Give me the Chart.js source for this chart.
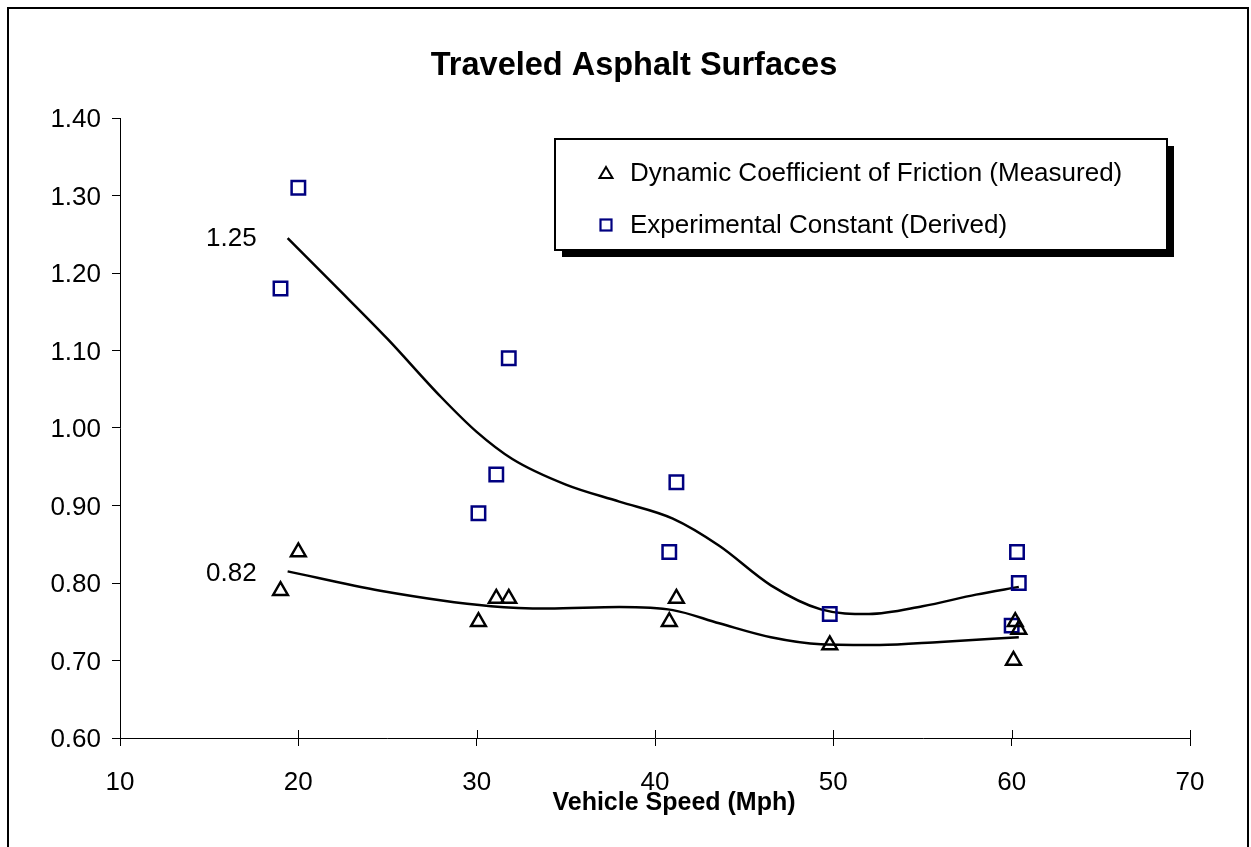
<!DOCTYPE html>
<html><head><meta charset="utf-8">
<script src="https://cdn.jsdelivr.net/npm/chart.js@4/dist/chart.umd.min.js"></script>
<style>html,body{margin:0;padding:0;background:#fff;overflow:hidden}canvas{display:block}</style>
</head><body>
<canvas id="c" width="1251" height="847"></canvas>
<script>
const chartTitle = "Traveled Asphalt Surfaces";
const xAxisTitle = "Vehicle Speed (Mph)";
const xTicks = [10, 20, 30, 40, 50, 60, 70];
const yTicks = [0.6, 0.7, 0.8, 0.9, 1.0, 1.1, 1.2, 1.3, 1.4];
const seriesNames = ["Dynamic Coefficient of Friction (Measured)", "Experimental Constant (Derived)"];

const frictionSpeed = [19.0, 20.0, 30.1, 31.1, 31.8, 40.8, 41.2, 49.8, 60.1, 60.2, 60.4];
const frictionValue = [0.79, 0.84, 0.75, 0.78, 0.78, 0.75, 0.78, 0.72, 0.70, 0.75, 0.74];
const constantSpeed = [19.0, 20.0, 30.1, 31.1, 31.8, 40.8, 41.2, 49.8, 60.0, 60.3, 60.4];
const constantValue = [1.18, 1.31, 0.89, 0.94, 1.09, 0.84, 0.93, 0.76, 0.745, 0.84, 0.80];

const frictionTrendSpeed = [19.4, 24.6, 30.8, 34.0, 38.0, 41.0, 43.6, 46.5, 49.3, 52.6, 56.0, 60.4];
const frictionTrendValue = [0.815, 0.79, 0.77, 0.767, 0.769, 0.765, 0.748, 0.73, 0.721, 0.72, 0.724, 0.73];
const constantTrendSpeed = [19.4, 22.0, 25.0, 28.0, 30.0, 32.0, 35.0, 38.0, 41.0, 43.6, 46.5, 49.3, 52.0, 55.0, 58.0, 60.4];
const constantTrendValue = [1.245, 1.185, 1.115, 1.04, 0.995, 0.96, 0.927, 0.905, 0.883, 0.848, 0.797, 0.766, 0.76, 0.77, 0.785, 0.795];
const trendLabels = ["0.82", "1.25"];

const FONT = '"Liberation Sans", Arial, sans-serif';
const NAVY = '#000080';
const pts = (xs, ys) => xs.map((x, i) => ({x: x, y: ys[i]}));

const deco = {
  id: 'deco',
  beforeDraw(chart) {
    const c = chart.ctx; c.save(); c.fillStyle = '#fff'; c.fillRect(0, 0, chart.width, chart.height); c.restore();
  },
  afterDraw(chart) {
    const c = chart.ctx, xs = chart.scales.x, ys = chart.scales.y, a = chart.chartArea;
    c.save();
    c.strokeStyle = '#000'; c.lineWidth = 2;
    c.strokeRect(8, 8, 1240, 900);
    c.fillStyle = '#000'; c.textAlign = 'center'; c.textBaseline = 'middle';
    c.font = 'bold 32.5px ' + FONT; c.fillText(chartTitle, 634, 66);
    c.font = 'bold 25px ' + FONT; c.fillText(xAxisTitle, 674, 803);
    // inner part of x ticks
    c.lineWidth = 1;
    xTicks.forEach(v => { const px = Math.round(xs.getPixelForValue(v)) + 0.5; c.beginPath(); c.moveTo(px, a.bottom); c.lineTo(px, a.bottom - 8); c.stroke(); });
    // trend labels
    c.font = '26px ' + FONT; c.textAlign = 'right';
    c.fillText(trendLabels[0], xs.getPixelForValue(frictionTrendSpeed[0]) - 31, ys.getPixelForValue(frictionTrendValue[0]) + 2);
    c.fillText(trendLabels[1], xs.getPixelForValue(constantTrendSpeed[0]) - 31, ys.getPixelForValue(constantTrendValue[0]) + 1);
    // legend
    const L = 555, T = 139, W = 612, H = 111;
    c.fillStyle = '#000'; c.fillRect(L + 7, T + 7, W, H);
    c.fillStyle = '#fff'; c.fillRect(L, T, W, H);
    c.lineWidth = 2; c.strokeStyle = '#000'; c.strokeRect(L, T, W, H);
    // legend markers
    c.beginPath(); c.moveTo(606, 167); c.lineTo(612.5, 178); c.lineTo(599.5, 178); c.closePath(); c.stroke();
    c.strokeStyle = NAVY; c.lineWidth = 2.2; c.strokeRect(600.5, 219.5, 11, 11);
    c.fillStyle = '#000'; c.textAlign = 'left'; c.font = '26px ' + FONT;
    c.fillText(seriesNames[0], 630, 174);
    c.fillText(seriesNames[1], 630, 226);
    c.restore();
  }
};

new Chart(document.getElementById('c'), {
  type: 'scatter',
  data: {
    datasets: [
      {label: seriesNames[0], data: pts(frictionSpeed, frictionValue), pointStyle: 'triangle', pointRadius: 8.6, pointBorderWidth: 2.4, pointBorderColor: '#000', pointBackgroundColor: 'rgba(255,255,255,0)', showLine: false},
      {label: seriesNames[1], data: pts(constantSpeed, constantValue), pointStyle: 'rect', pointRadius: 9.5, pointBorderWidth: 2.5, pointBorderColor: NAVY, pointBackgroundColor: 'rgba(255,255,255,0)', showLine: false},
      {type: 'line', label: 'friction trend', data: pts(frictionTrendSpeed, frictionTrendValue), borderColor: '#000', borderWidth: 2.5, pointRadius: 0, cubicInterpolationMode: 'monotone', fill: false},
      {type: 'line', label: 'constant trend', data: pts(constantTrendSpeed, constantTrendValue), borderColor: '#000', borderWidth: 2.5, pointRadius: 0, cubicInterpolationMode: 'monotone', fill: false}
    ]
  },
  options: {
    responsive: false, animation: false, devicePixelRatio: 1,
    layout: {padding: {top: 118, right: 61, left: 0, bottom: 0}},
    plugins: {legend: {display: false}, title: {display: false}, tooltip: {enabled: false}},
    scales: {
      x: {type: 'linear', min: 10, max: 70,
        afterFit: s => { s.height = 109; },
        afterBuildTicks: s => { s.ticks = xTicks.map(v => ({value: v})); },
        border: {color: '#000', width: 1},
        grid: {drawOnChartArea: false, drawTicks: true, tickLength: 8, color: '#000'},
        ticks: {color: '#000', font: {family: FONT, size: 26}, padding: 21, maxRotation: 0, callback: v => String(v)}},
      y: {type: 'linear', min: 0.6, max: 1.4,
        afterFit: s => { s.width = 120; },
        afterBuildTicks: s => { s.ticks = yTicks.map(v => ({value: v})); },
        border: {color: '#000', width: 1},
        grid: {drawOnChartArea: false, drawTicks: true, tickLength: 8, color: '#000'},
        ticks: {color: '#000', font: {family: FONT, size: 26}, padding: 11, labelOffset: 2, callback: v => Number(v).toFixed(2)}}
    }
  },
  plugins: [deco]
});
</script>
</body></html>
